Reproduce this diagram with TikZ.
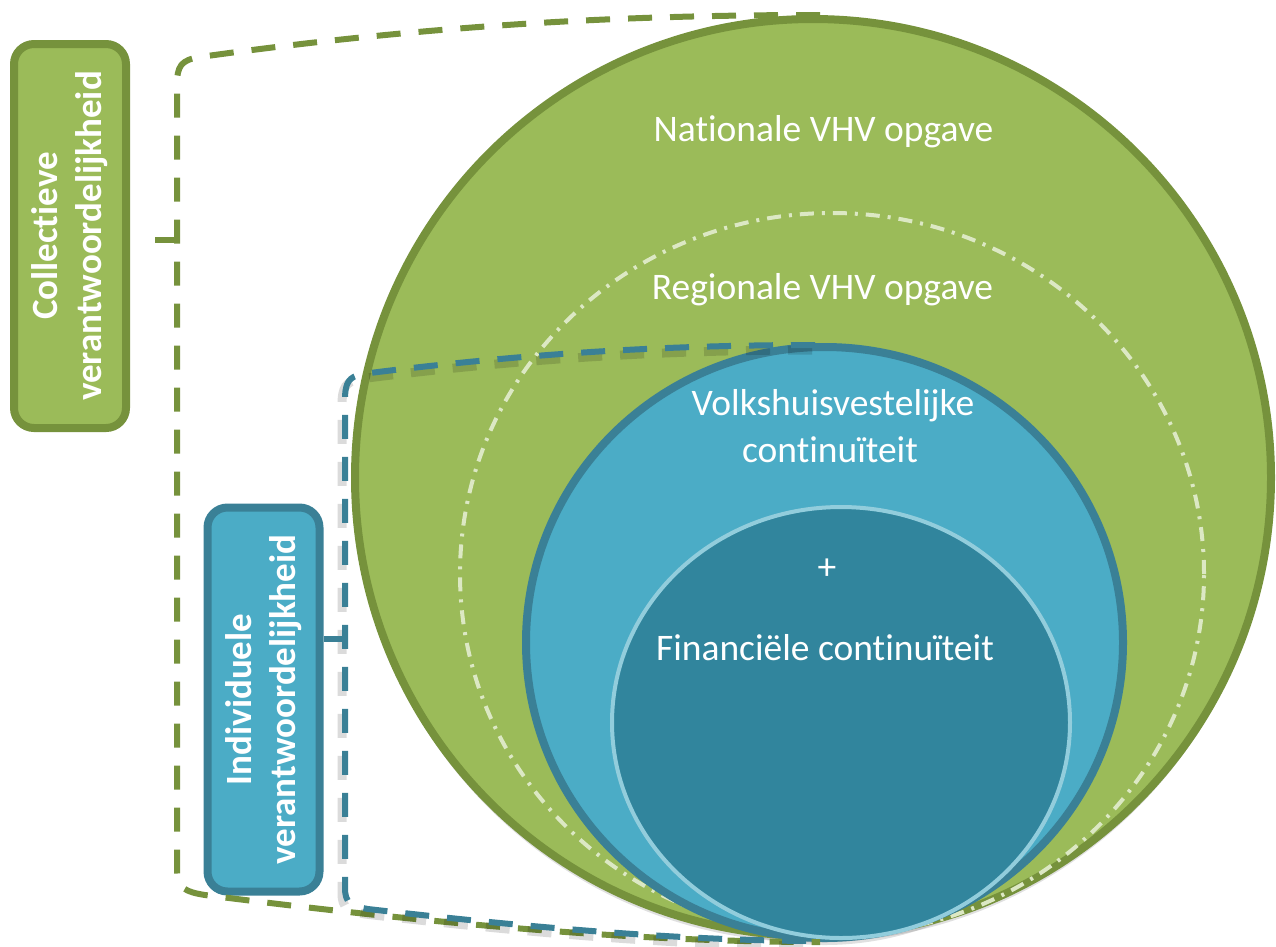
\documentclass[tikz,border=0pt]{standalone}
\usepackage{fontspec}
\setmainfont{Carlito}[Ligatures=NoCommon]
\usetikzlibrary{shapes.geometric}
\definecolor{gfill}{HTML}{9BBB59}
\definecolor{gdark}{HTML}{76923C}
\definecolor{bfill}{HTML}{4BACC6}
\definecolor{bdark}{HTML}{3A8096}
\definecolor{ifill}{HTML}{31859D}
\definecolor{iline}{HTML}{92CDDC}
\definecolor{dotline}{HTML}{DCE8C4}
\begin{document}
\begin{tikzpicture}[x=1pt,y=-1pt,
  ring/.style={ellipse, inner sep=0pt, outer sep=0pt},
  shadowring/.style={ellipse, inner sep=0pt, fill=black, opacity=0.12, draw=none},
  circtext/.style={text=white, font=\fontsize{37.5}{47}\selectfont, align=center, inner sep=0pt},
  labelbox/.style={rounded corners=20pt, line width=8pt, minimum width=384pt, minimum height=112pt,
     text=white, font=\bfseries\fontsize{37}{44}\selectfont, align=center, inner sep=0pt, rotate=90},
  gdash/.style={draw=gdark, line width=6pt, dash pattern=on 24pt off 18pt},
  bdash/.style={draw=bdark, line width=6pt, dash pattern=on 24pt off 18pt},
  bshadow/.style={draw=black, opacity=0.14, line width=9pt, dash pattern=on 24pt off 18pt},
  tick/.style={line width=6pt}
]
\useasboundingbox (0,0) rectangle (1276,946);

% shadows of circles
\node[shadowring, minimum width=918pt, minimum height=921pt] at (813,482) {};
\node[shadowring, minimum width=601pt, minimum height=596pt] at (824.5,647) {};

% circles
\node[ring, fill=gfill, draw=gdark, line width=8pt, minimum width=916pt, minimum height=917pt] (nat) at (813,477.5) {};
\node[ring, draw=dotline, line width=4pt, dash pattern=on 14pt off 8pt on 3pt off 8pt, minimum width=744pt, minimum height=722pt] (reg) at (832,574) {};
\node[ring, fill=bfill, draw=bdark, line width=8pt, minimum width=597pt, minimum height=591pt] (vol) at (824.5,642.5) {};
\node[ring, fill=ifill, draw=iline, line width=4pt, minimum width=458pt, minimum height=431pt] (fin) at (841,722.5) {};

% circle texts
\node[circtext, anchor=base] (tnat) at (823.5,141.7) {Nationale VHV opgave};
\node[circtext, anchor=base] (treg) at (822.5,299) {Regionale VHV opgave};
\node[circtext, anchor=base] (tvol1) at (833,415) {Volkshuisvestelijke};
\node[circtext, anchor=base] (tvol2) at (830,462) {continuïteit};
\node[circtext] (tplus) at (827,569) {+};
\node[circtext, anchor=base] (tfin) at (825,660) {Financiële continuïteit};

% label boxes
\node[labelbox, fill=gfill, draw=gdark] (coll) at (70,236) {Collectieve\\verantwoordelijkheid};
\node[labelbox, fill=bfill, draw=bdark] (indi) at (263.5,699.5) {Individuele\\verantwoordelijkheid};

% green bracket
\coordinate (gT) at (820,15);
\coordinate (gB) at (820,942);
\coordinate (gtick) at (177,240);
\draw[gdash] (gT) .. controls (650,15) and (450,22) .. (200,57)
  .. controls (181,60) and (177,66) .. (177,85) -- (177,872)
  .. controls (177,888) and (186,892) .. (205,895)
  .. controls (450,926) and (650,942) .. (gB);
\draw[draw=gdark, tick] (155,240) -- (gtick);

% blue bracket shadow
\draw[bshadow, shift={(-3,5)}] (815,345) .. controls (700,345) and (550,350) .. (362,374)
  .. controls (349,377) and (345,382) .. (345,400) -- (345,888)
  .. controls (345,903) and (351,906) .. (368,909)
  .. controls (550,930) and (700,941) .. (820,941);
% blue bracket
\coordinate (bT) at (815,345);
\coordinate (bB) at (820,941);
\coordinate (btick) at (345,639);
\draw[bdash] (bT) .. controls (700,345) and (550,350) .. (362,374)
  .. controls (349,377) and (345,382) .. (345,400) -- (345,888)
  .. controls (345,903) and (351,906) .. (368,909)
  .. controls (550,930) and (700,941) .. (bB);
\draw[draw=bdark, tick] (indi.south |- btick) -- (btick);
\end{tikzpicture}
\end{document}
